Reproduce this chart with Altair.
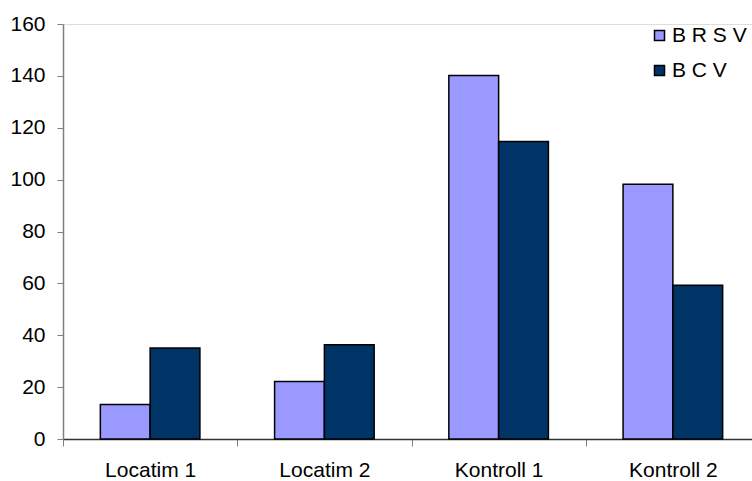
import altair as alt
import pandas as pd

categories = ["Locatim 1", "Locatim 2", "Kontroll 1", "Kontroll 2"]
series = ["B R S V", "B C V"]
brsv = [13.3, 22.2, 140.1, 98.2]
bcv = [35.1, 36.3, 114.7, 59.3]
colors = ["#9999FF", "#003366"]

rows = []
for i, cat in enumerate(categories):
    rows.append({"group": cat, "series": series[0], "value": brsv[i]})
    rows.append({"group": cat, "series": series[1], "value": bcv[i]})
df = pd.DataFrame(rows)

FONT = "Liberation Sans"

chart = (
    alt.Chart(df)
    .mark_bar(stroke="black", strokeWidth=1.5)
    .encode(
        x=alt.X(
            "group:N",
            sort=categories,
            title=None,
            scale=alt.Scale(paddingInner=0, paddingOuter=0, range=[0, 697]),
            axis=alt.Axis(
                labelAngle=0,
                labelFont=FONT,
                labelFontSize=21,
                labelColor="black",
                labelPadding=13,
                tickBand="extent",
                tickSize=7,
                tickColor="#808080",
                domainColor="#333333",
                domainWidth=1.5,
                grid=False,
            ),
        ),
        xOffset=alt.XOffset(
            "series:N",
            sort=series,
            scale=alt.Scale(paddingOuter=0.75, paddingInner=0),
        ),
        y=alt.Y(
            "value:Q",
            title=None,
            scale=alt.Scale(domain=[0, 160], nice=False),
            axis=alt.Axis(
                values=[0, 20, 40, 60, 80, 100, 120, 140, 160],
                labelFont=FONT,
                labelFontSize=21,
                labelColor="black",
                labelPadding=12,
                tickSize=6,
                tickColor="#808080",
                domainColor="#808080",
                domainWidth=1.5,
                grid=False,
            ),
        ),
        color=alt.Color(
            "series:N",
            sort=series,
            scale=alt.Scale(domain=series, range=colors),
            legend=alt.Legend(
                title=None,
                orient="none",
                legendX=586,
                legendY=1,
                padding=0,
                symbolType="square",
                symbolSize=100,
                symbolStrokeColor="black",
                symbolStrokeWidth=1.5,
                symbolOpacity=1,
                labelFont=FONT,
                labelFontSize=21,
                labelColor="black",
                labelOffset=2,
                rowPadding=13,
            ),
        ),
    )
    .properties(
        width=689,
        height=415,
        autosize=alt.AutoSizeParams(type="none"),
        padding={"left": 63, "top": 24, "right": 0, "bottom": 42},
    )
    .configure_view(stroke=None)
    .configure(background="white")
)

chart.save("out.html", embed_options={"renderer": "svg", "actions": False})
